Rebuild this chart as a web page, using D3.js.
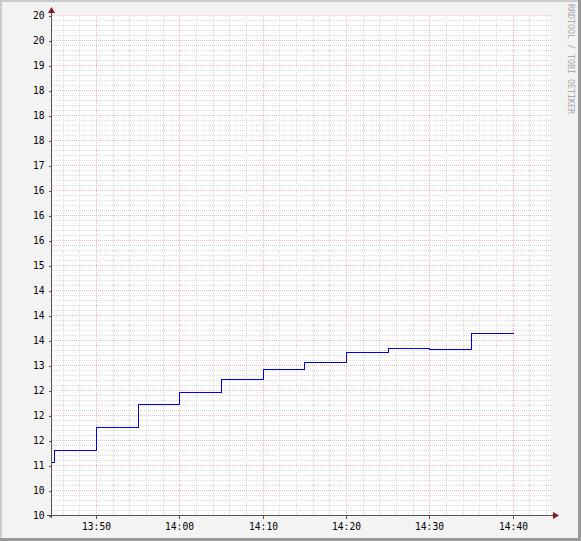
<!DOCTYPE html>
<html>
<head>
<meta charset="utf-8">
<script src="https://cdn.jsdelivr.net/npm/d3@7"></script>
<style>
  body { margin: 0; background: #fff; }
  svg text { font-family: "DejaVu Sans Mono", monospace; }
</style>
</head>
<body>
<div id="chart"></div>
<script>
// step data: time the value starts, value
var stepTimes = ["13:44:36", "13:45:00", "13:50:00", "13:55:00", "14:00:00", "14:05:00",
                 "14:10:00", "14:15:00", "14:20:00", "14:25:00", "14:30:00", "14:35:00", "14:40:00"];
var stepValues = [11.07, 11.30, 11.77, 12.23, 12.46, 12.71,
                  12.93, 13.05, 13.27, 13.34, 13.32, 13.63, 13.63];

// y tick labels, bottom to top (10 .. 20 step 0.5)
var yTickLabels = ["10", "10", "11", "12", "12", "12", "13", "14", "14", "14", "15",
                   "16", "16", "16", "17", "18", "18", "18", "19", "20", "20"];

var timeStart = "13:44:36",
    timeEnd = "14:44:36";

var width = 581,
    height = 541;

var parseT = function(s) {
  var p = s.split(":").map(Number);
  return new Date(2020, 0, 1, p[0], p[1], p[2]);
};

var x = d3.scaleTime()
    .domain([parseT(timeStart), parseT(timeEnd)])
    .range([51, 551]);

var y = d3.scaleLinear()
    .domain([10, 20])
    .range([515, 15]);

var px = function(d) { return Math.round(x(d)); };
var py = function(d) { return Math.round(y(d)); };

var svg = d3.select("#chart")
  .append("svg")
    .attr("width", width)
    .attr("height", height);

// background + shading border
svg.append("rect").attr("width", width).attr("height", height).attr("fill", "#f3f3f3");
svg.append("rect").attr("x", 0).attr("y", 0).attr("width", width).attr("height", 2).attr("fill", "#cbcbcb");
svg.append("rect").attr("x", 0).attr("y", 0).attr("width", 2).attr("height", height).attr("fill", "#cbcbcb");
svg.append("rect").attr("x", 0).attr("y", height - 3).attr("width", width).attr("height", 3).attr("fill", "#999");
svg.append("rect").attr("x", width - 3).attr("y", 0).attr("width", 3).attr("height", height).attr("fill", "#999");

// canvas
svg.append("rect")
    .attr("x", 51).attr("y", 15)
    .attr("width", 500).attr("height", 500)
    .attr("fill", "#fff");

var grid = svg.append("g")
    .attr("transform", "translate(0.5,0.5)")
    .attr("shape-rendering", "crispEdges");

var majorY = d3.range(0, 21).map(function(i) { return 10 + i * 0.5; });
var minorY = d3.range(0, 101).map(function(i) { return 10 + i * 0.1; })
    .filter(function(v, i) { return i % 5 != 0; });

var minorX = d3.timeMinute.every(2).range(x.domain()[0], x.domain()[1])
    .filter(function(d) { return d.getMinutes() % 10 != 0; });
var majorX = d3.timeMinute.every(10).range(x.domain()[0], x.domain()[1]);

// minor grid
grid.selectAll(".minh").data(minorY).enter().append("line")
    .attr("x1", 51).attr("x2", 551)
    .attr("y1", py).attr("y2", py)
    .attr("stroke", "#dadada").attr("stroke-dasharray", "1,1");
grid.selectAll(".minv").data(minorX).enter().append("line")
    .attr("y1", 15).attr("y2", 515)
    .attr("x1", px).attr("x2", px)
    .attr("stroke", "#dadada").attr("stroke-dasharray", "1,1");

// major grid
grid.selectAll(".majh").data(majorY).enter().append("line")
    .attr("x1", 51).attr("x2", 551)
    .attr("y1", py).attr("y2", py)
    .attr("stroke", "#ecbcbc").attr("stroke-dasharray", "1,1");
grid.selectAll(".majv").data(majorX).enter().append("line")
    .attr("y1", 15).attr("y2", 515)
    .attr("x1", px).attr("x2", px)
    .attr("stroke", "#ecbcbc").attr("stroke-dasharray", "1,1");

// data line
var pts = stepTimes.map(function(t, i) { return [parseT(t), stepValues[i]]; });
var line = d3.line()
    .x(function(d) { return px(d[0]); })
    .y(function(d) { return py(d[1]); })
    .curve(d3.curveStepAfter);

grid.append("path")
    .datum(pts)
    .attr("d", line)
    .attr("fill", "none")
    .attr("stroke", "#0000ff")
    .attr("stroke-width", 1);

// axes
var axisCol = "#555";
var yAxis = d3.axisLeft(y)
    .tickValues(majorY)
    .tickSize(3)
    .tickPadding(4)
    .tickFormat(function(d, i) { return yTickLabels[i]; });
var gy = svg.append("g")
    .attr("transform", "translate(51.5,0.5)")
    .call(yAxis);
gy.select(".domain").remove();
gy.selectAll("line").attr("stroke", axisCol).attr("shape-rendering", "crispEdges");
gy.selectAll("text").attr("font-size", "9.6px").attr("fill", "#000")
    .attr("font-family", "DejaVu Sans Mono");

var xAxis = d3.axisBottom(x)
    .tickValues(majorX)
    .tickSize(3)
    .tickPadding(5)
    .tickFormat(d3.timeFormat("%H:%M"));
var gx = svg.append("g")
    .attr("transform", "translate(0.5,515.5)")
    .call(xAxis);
gx.select(".domain").remove();
gx.selectAll(".tick").attr("transform", function(d) { return "translate(" + px(d) + ",0)"; });
gx.selectAll("line").attr("stroke", axisCol).attr("shape-rendering", "crispEdges");
gx.selectAll("text").attr("font-size", "9.6px").attr("fill", "#000")
    .attr("font-family", "DejaVu Sans Mono");

// axis lines
svg.append("line").attr("x1", 51.5).attr("x2", 51.5).attr("y1", 518).attr("y2", 11)
    .attr("stroke", axisCol).attr("shape-rendering", "crispEdges");
svg.append("line").attr("x1", 47).attr("x2", 555).attr("y1", 515.5).attr("y2", 515.5)
    .attr("stroke", axisCol).attr("shape-rendering", "crispEdges");

// arrows
svg.append("path").attr("d", "M48,13 L55,13 L51.5,7 Z").attr("fill", "#8b1a1a");
svg.append("path").attr("d", "M553,512 L553,519 L559,515.5 Z").attr("fill", "#8b1a1a");

// watermark
svg.append("text")
    .attr("transform", "translate(568,4) rotate(90)")
    .attr("font-size", "8.3px")
    .attr("fill", "#a8a8a8")
    .attr("font-family", "DejaVu Sans Mono")
    .text("RRDTOOL / TOBI OETIKER");
</script>
</body>
</html>
